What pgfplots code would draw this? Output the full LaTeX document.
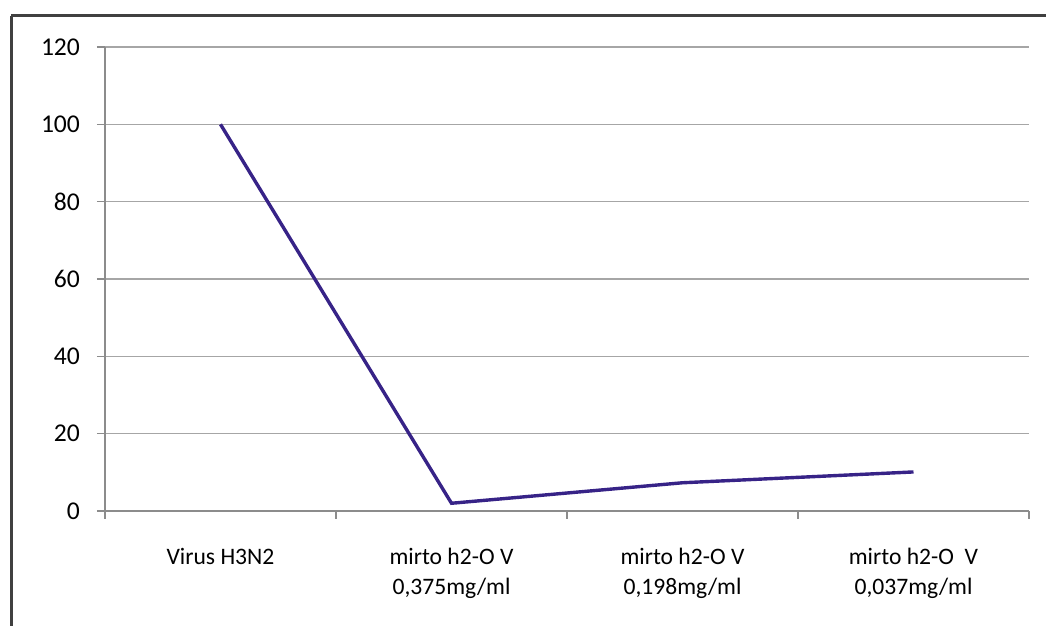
\documentclass[border=0pt]{standalone}
\usepackage{fontspec}
\setmainfont{Carlito}
\usepackage{pgfplots}
\pgfplotsset{compat=1.18}
\definecolor{linec}{RGB}{55,35,135}
\begin{document}
\begin{tikzpicture}[x=1pt,y=1pt]
\begin{axis}[at={(52.5pt,57.5pt)}, anchor=south west, scale only axis,
  width=462pt, height=232pt,
  xmin=0.5, xmax=4.5, ymin=0, ymax=120, ytick={0,20,...,120},
  axis x line*=bottom, axis y line*=left,
  axis line style={black!45, -, line width=0.6pt},
  ymajorgrids, grid style={black!35, line width=0.7pt},
  /pgf/number format/assume math mode=true,
  xtick={1,2,3,4},
  xticklabels={Virus H3N2, {mirto h2-O V\\0,375mg/ml}, {mirto h2-O V\\0,198mg/ml}, {mirto h2-O \ V\\0,037mg/ml}},
  xtick style={draw=none},
  xticklabel style={align=center, font=\fontsize{11.8}{15}\selectfont, yshift=-11pt},
  extra x ticks={0.5,1.5,2.5,3.5,4.5}, extra x tick labels={},
  extra x tick style={tick align=outside, major tick length=4pt, xtick style={draw=black!45, line width=0.6pt}},
  ytick style={draw=black!45, line width=0.6pt},
  tick align=outside, major tick length=4pt,
  yticklabel style={font=\fontsize{12.8}{15}\selectfont, xshift=-5pt},
]
\addplot[color=linec, line width=1.7pt] coordinates {(1,100) (2,2) (3,7.3) (4,10.1)};
\end{axis}
\path[use as bounding box] (0,0) rectangle (523,313);
\draw[line width=1.5pt, black!75] (5.5,0) -- (5.5,305);
\draw[line width=1.5pt, black!75] (5.5,305) -- (523,305);
\end{tikzpicture}
\end{document}
